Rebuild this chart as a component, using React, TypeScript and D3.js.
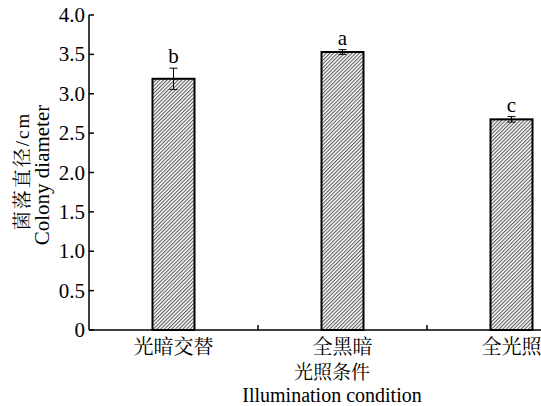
import React from "react";
import * as d3 from "d3";

const categories = ["光暗交替", "全黑暗", "全光照"];
const diameters = [3.19, 3.53, 2.675];
const errors = [0.135, 0.03, 0.035];
const sigLetters = ["b", "a", "c"];
const yTicks = [0, 0.5, 1.0, 1.5, 2.0, 2.5, 3.0, 3.5, 4.0];

const W = 541;
const H = 406;
const axisX = 89;
const baseY = 330;
const topY = 15;
const step = 169;
const barW = 42;
const serif = "'Liberation Serif', 'Times New Roman', serif";
const cjk = "'Noto Serif CJK SC', 'Noto Sans CJK SC', serif";

export default function App() {
  const x = d3
    .scaleBand<string>()
    .domain(categories)
    .range([axisX, axisX + step * categories.length])
    .padding(0);
  const y = d3.scaleLinear().domain([0, 4]).range([baseY, topY]);
  const bw = x.bandwidth();

  return (
    <svg
      width={W}
      height={H}
      style={{ position: "absolute", left: 0, top: 0, background: "#fff" }}
    >
      <defs>
        <pattern
          id="hatch"
          patternUnits="userSpaceOnUse"
          width={2.6}
          height={6}
          patternTransform="rotate(45)"
        >
          <rect width={2.6} height={6} fill="#fff" />
          <line x1={0.6} y1={0} x2={0.6} y2={6} stroke="#3a3a3a" strokeWidth={0.9} />
        </pattern>
      </defs>

      {/* bars */}
      {categories.map((c, i) => {
        const cx = (x(c) as number) + bw / 2;
        const top = y(diameters[i]);
        const hi = y(diameters[i] + errors[i]);
        const lo = y(diameters[i] - errors[i]);
        return (
          <g key={c}>
            <rect
              x={cx - barW / 2}
              y={top}
              width={barW}
              height={baseY - top}
              fill="url(#hatch)"
              stroke="#000"
              strokeWidth={2}
            />
            {/* error bar */}
            <line x1={cx} x2={cx} y1={hi} y2={lo} stroke="#000" strokeWidth={1} />
            <line x1={cx - 4} x2={cx + 4} y1={hi} y2={hi} stroke="#000" strokeWidth={1} />
            <line x1={cx - 4} x2={cx + 4} y1={lo} y2={lo} stroke="#000" strokeWidth={1} />
            <text
              x={cx}
              y={hi - 5}
              textAnchor="middle"
              fontFamily={serif}
              fontSize={21}
            >
              {sigLetters[i]}
            </text>
            <text
              x={cx}
              y={354}
              textAnchor="middle"
              fontFamily={cjk}
              fontSize={20}
            >
              {c}
            </text>
          </g>
        );
      })}

      {/* y axis */}
      <line x1={axisX} x2={axisX} y1={topY} y2={baseY} stroke="#000" strokeWidth={1.5} />
      {yTicks.map((t) => (
        <g key={t}>
          <line x1={axisX} x2={axisX + 5} y1={y(t)} y2={y(t)} stroke="#000" strokeWidth={1.5} />
          <text
            x={85}
            y={y(t) + 7}
            textAnchor="end"
            fontFamily={serif}
            fontSize={21}
          >
            {t === 0 ? "0" : d3.format(".1f")(t)}
          </text>
        </g>
      ))}

      {/* x axis */}
      <line x1={axisX} x2={W} y1={baseY} y2={baseY} stroke="#000" strokeWidth={1.5} />
      {categories.slice(1).map((c) => (
        <line
          key={c}
          x1={x(c) as number}
          x2={x(c) as number}
          y1={baseY}
          y2={baseY - 5}
          stroke="#000"
          strokeWidth={1.5}
        />
      ))}

      {/* axis titles */}
      <text x={332} y={379} textAnchor="middle" fontFamily={cjk} fontSize={19}>
        光照条件
      </text>
      <text x={332} y={402} textAnchor="middle" fontFamily={serif} fontSize={20}>
        Illumination condition
      </text>
      <text
        transform="translate(29,171) rotate(-90)"
        textAnchor="middle"
        fontSize={19}
        letterSpacing={2}
      >
        <tspan fontFamily={cjk}>菌落直径</tspan>
        <tspan fontFamily={serif}>/cm</tspan>
      </text>
      <text
        transform="translate(49,175) rotate(-90)"
        textAnchor="middle"
        fontFamily={serif}
        fontSize={21}
      >
        Colony diameter
      </text>
    </svg>
  );
}
